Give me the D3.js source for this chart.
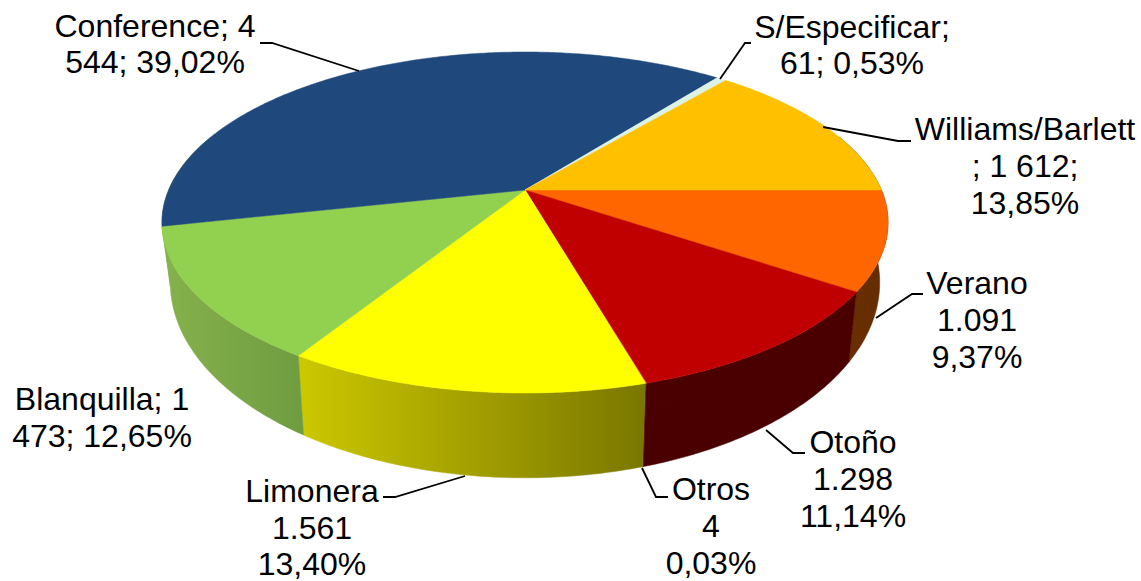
<!DOCTYPE html>
<html>
<head>
<meta charset="utf-8">
<script src="https://cdn.jsdelivr.net/npm/d3@7"></script>
<style>
  html, body { margin: 0; padding: 0; background: #fff; overflow: hidden; }
  text { font-family: "Liberation Sans", Arial, sans-serif; font-size: 32px; fill: #000; text-anchor: middle; }
</style>
</head>
<body>
<div id="chart"></div>
<script>
// clockwise starting at the horizontal line east of the centre
var categories = ["Verano", "Otoño", "Otros", "Limonera", "Blanquilla", "Conference", "S/Especificar", "Williams/Barlett"];
var values = [1091, 1298, 4, 1561, 1473, 4544, 61, 1612];
var labelLines = [
  ["Verano", "1.091", "9,37%"],
  ["Otoño", "1.298", "11,14%"],
  ["Otros", "4", "0,03%"],
  ["Limonera", "1.561", "13,40%"],
  ["Blanquilla; 1", "473; 12,65%"],
  ["Conference; 4", "544; 39,02%"],
  ["S/Especificar;", "61; 0,53%"],
  ["Williams/Barlett", "; 1 612;", "13,85%"]
];
var topColors = ["#ff6600", "#c00000", "#e8b800", "#ffff00", "#92d050", "#1f497d", "#dcf2e4", "#ffc000"];
var wallLeft = ["#6b3000", "#4b0000", "#4b0000", "#ccc800", "#86b24c", "#86b24c", "#dcf2e4", "#ffc000"];
var wallRight = ["#642c00", "#4b0000", "#4b0000", "#7a7700", "#6f9c40", "#86b24c", "#dcf2e4", "#ffc000"];

// label placement: centre x, first baseline, line gap, then leader line
var labelX = [977, 853, 711, 312, 102, 155, 852, 1025];
var labelY = [294, 453, 500, 502, 410, 37, 38, 140];
var labelGap = [37, 37, 37, 36.5, 37, 36, 36, 37];
var leaders = [
  [[876, 318], [912, 294], [923, 294]],
  [[766, 430], [793, 453], [805, 453]],
  [[642, 468], [656, 497], [668, 497]],
  [[465, 476], [395, 497], [383, 497]],
  null,
  [[359, 71], [272, 43], [260, 43]],
  [[720, 79], [745, 43], [751, 43]],
  [[823, 127], [898, 141], [911, 141]]
];

var width = 1141, height = 581;
var svg = d3.select("#chart").append("svg")
  .attr("width", width).attr("height", height);
var defs = svg.append("defs");

// excel style perspective pie, circle goes through a projective map
var persp = 0.1906;
var xScale = d3.scaleLinear().domain([-1, 1]).range([525 - 356.4, 525 + 356.4]);
var yScale = d3.scaleLinear().domain([-1, 1]).range([190 + 164.3, 190 - 164.3]);

function topPoint(a) {
  var u = Math.sin(a), v = Math.cos(a), w = 1 + persp * v;
  return [xScale(u / w), yScale(v / w)];
}
// same point on the lower rim
function lowPoint(a) {
  var p = topPoint(a);
  return [525 + (p[0] - 525) * 0.977, p[1] + 60 + (p[1] - 222) * 0.145];
}
function sample(a0, a1) {
  var n = Math.max(2, Math.ceil(Math.abs(a1 - a0) / 0.01));
  return d3.range(n + 1).map(function(i) { return a0 + (a1 - a0) * i / n; });
}

var pie = d3.pie().sort(null).startAngle(Math.PI / 2).endAngle(Math.PI * 2.5);
var arcs = pie(values);
var line = d3.line();

// walls first, top face hides whatever is behind the rim
arcs.forEach(function(d, i) {
  var a0 = i == 0 ? d.startAngle - 0.35 : d.startAngle;
  var a1 = Math.min(d.endAngle, Math.PI * 1.5 + 0.35);
  if (a1 <= a0) return;
  var angles = sample(a0, a1);
  var upper = angles.map(topPoint);
  var lower = angles.map(lowPoint).reverse();
  var xs = upper.concat(lower).map(function(p) { return p[0]; });
  var grad = defs.append("linearGradient")
    .attr("id", "wall" + i)
    .attr("gradientUnits", "userSpaceOnUse")
    .attr("x1", d3.min(xs)).attr("x2", d3.max(xs))
    .attr("y1", 0).attr("y2", 0);
  grad.append("stop").attr("offset", 0).attr("stop-color", wallLeft[i]);
  grad.append("stop").attr("offset", 1).attr("stop-color", wallRight[i]);
  svg.append("path")
    .attr("d", line(upper.concat(lower)) + "Z")
    .attr("fill", "url(#wall" + i + ")")
    .attr("stroke", "url(#wall" + i + ")")
    .attr("stroke-width", 0.5);
});

// top face
var apex = [xScale(0), yScale(0)];
arcs.forEach(function(d, i) {
  var rim = sample(d.startAngle, d.endAngle).map(topPoint);
  svg.append("path")
    .attr("d", line([apex].concat(rim)) + "Z")
    .attr("fill", topColors[i])
    .attr("stroke", topColors[i])
    .attr("stroke-width", 0.5);
});

// leader lines
leaders.forEach(function(pts) {
  if (!pts) return;
  svg.append("path")
    .attr("d", line(pts))
    .attr("fill", "none")
    .attr("stroke", "#000")
    .attr("stroke-width", 1.8);
});

// labels
categories.forEach(function(c, i) {
  var t = svg.append("text");
  labelLines[i].forEach(function(s, j) {
    t.append("tspan")
      .attr("x", labelX[i])
      .attr("y", labelY[i] + j * labelGap[i])
      .text(s);
  });
});
</script>
</body>
</html>
